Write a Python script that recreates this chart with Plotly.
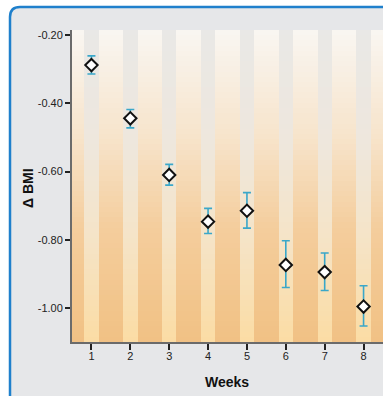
import plotly.graph_objects as go
import numpy as np

weeks = [1, 2, 3, 4, 5, 6, 7, 8]
mean_bmi = [-0.288, -0.444, -0.610, -0.747, -0.715, -0.874, -0.895, -0.996]
upper_ci = [-0.261, -0.418, -0.579, -0.708, -0.662, -0.803, -0.839, -0.935]
lower_ci = [-0.314, -0.472, -0.640, -0.782, -0.766, -0.940, -0.949, -1.053]
y_ticks = [-1.0, -0.8, -0.6, -0.4, -0.2]
y_tick_labels = ["-1.00", "-0.80", "-0.60", "-0.40", "-0.20"]

W, H = 383, 396
ML, MR, MT, MB = 72, 0, 30, 54
PW, PH = W - ML - MR, H - MT - MB
YR = [-1.10, -0.185]
XR = [0.5, 8.5]

def px(x):
    return (x - ML) / PW

def py(y):
    return (H - MB - y) / PH

# background gradient with stripes (decorative heatmap)
sw = 0.185
xedges = [XR[0]]
stripe_flags = []
for k in weeks:
    xedges += [k - sw, k + sw]
    stripe_flags += [0, 1]
xedges.append(XR[1])
stripe_flags.append(0)
ny = 60
yedges = np.linspace(YR[0], YR[1], ny + 1)
frac = (np.arange(ny) + 0.5) / ny
z = np.array([[f + 2 * s for s in stripe_flags] for f in frac])

cs = [
    [0.0, "#f1c184"], [0.12, "#f4cd9c"], [0.22, "#f7e4cb"], [0.3333, "#f9f6f2"],
    [0.6667, "#fbdca4"], [0.78, "#f5e4c8"], [0.88, "#eee7dd"], [1.0, "#e9e8e6"],
]

fig = go.Figure()
fig.add_trace(go.Heatmap(
    x=xedges, y=yedges, z=z, zmin=0, zmax=3, colorscale=cs,
    showscale=False, hoverinfo="skip", zsmooth=False,
))

err_plus = [u - m for u, m in zip(upper_ci, mean_bmi)]
err_minus = [m - l for m, l in zip(mean_bmi, lower_ci)]
fig.add_trace(go.Scatter(
    x=weeks, y=mean_bmi, mode="markers",
    marker=dict(symbol="diamond", size=9.5, color="white",
                line=dict(color="#111111", width=2)),
    error_y=dict(type="data", array=err_plus, arrayminus=err_minus,
                 color="#3aa7c9", thickness=1.6, width=4),
    showlegend=False,
))

# panel with rounded blue border
r = 10
x0, y0 = 10, 7
x1, y1 = W + 20, H + 20
path = (f"M {px(x0)} {py(y1)} L {px(x0)} {py(y0 + r)} "
        f"Q {px(x0)} {py(y0)} {px(x0 + r)} {py(y0)} "
        f"L {px(x1)} {py(y0)} L {px(x1)} {py(y1)} Z")
fig.add_shape(type="path", path=path, xref="paper", yref="paper",
              fillcolor="#e6e7e9", line=dict(color="#1f80cc", width=2.5),
              layer="below")

fig.add_annotation(text="<b>Δ BMI</b>", x=px(28), y=py(188), xref="paper", yref="paper",
                   xanchor="center", yanchor="middle",
                   textangle=-90, showarrow=False, font=dict(size=14, color="#111111"))
fig.add_annotation(text="<b>Weeks</b>", x=px(227), y=py(382), xref="paper", yref="paper",
                   xanchor="center", yanchor="middle",
                   showarrow=False, font=dict(size=14, color="#111111"))

fig.update_layout(
    width=W, height=H,
    margin=dict(l=ML, r=MR, t=MT, b=MB),
    paper_bgcolor="white", plot_bgcolor="rgba(0,0,0,0)",
    font=dict(family="Liberation Sans, Arial, sans-serif", size=11, color="#222222"),
    xaxis=dict(range=XR, tickvals=weeks, ticktext=[str(w) for w in weeks],
               showgrid=False, zeroline=False, showline=True, linecolor="#6b6b6b",
               linewidth=2, ticks="outside", ticklen=6, tickwidth=2, tickcolor="#222222",
               ticklabelstandoff=-3,
               tickfont=dict(size=11, color="#222222")),
    yaxis=dict(range=YR, tickvals=y_ticks, ticktext=y_tick_labels,
               showgrid=False, zeroline=False, showline=True, linecolor="#6b6b6b",
               linewidth=2, ticks="outside", ticklen=5, tickwidth=2, tickcolor="#222222",
               tickfont=dict(size=11, color="#222222")),
)

fig.write_html("out.html", config={"displayModeBar": False},
               post_script="document.body.style.margin='0';document.body.style.overflow='hidden';")
